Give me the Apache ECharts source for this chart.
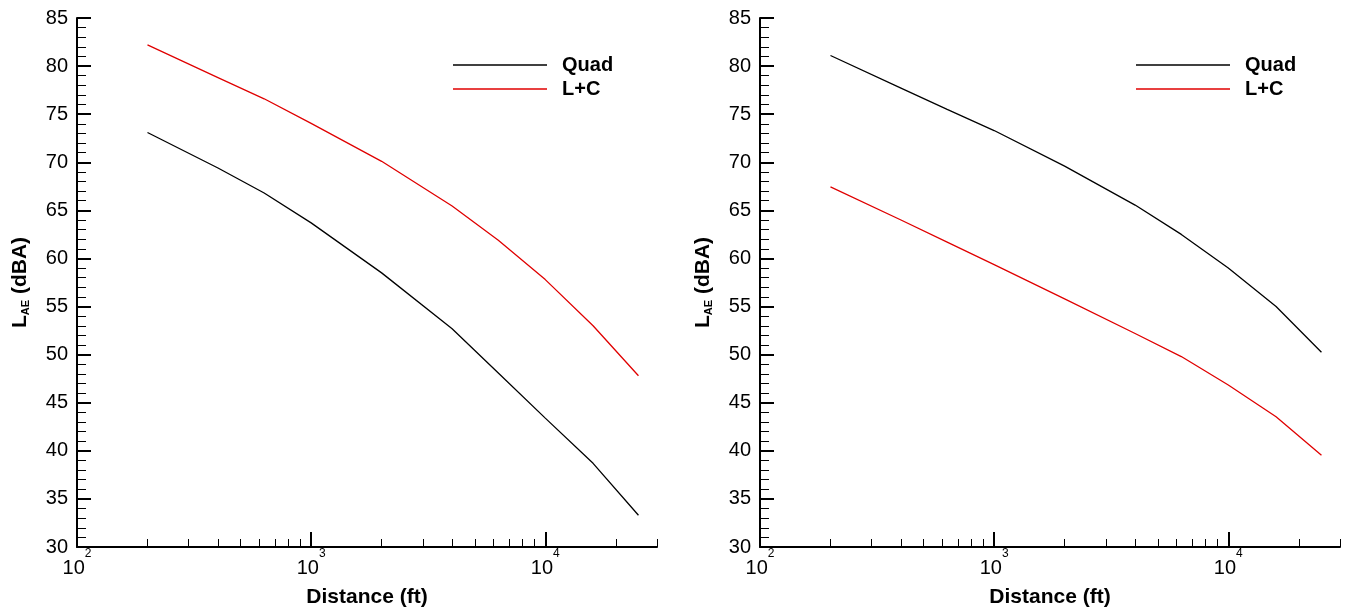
<!DOCTYPE html>
<html>
<head>
<meta charset="utf-8">
<script src="https://cdn.jsdelivr.net/npm/echarts@6/dist/echarts.min.js"></script>
<style>
  html, body { margin: 0; padding: 0; background: #fff; }
  #chart { width: 1347px; height: 613px; }
</style>
</head>
<body>
<div id="chart"></div>
<script>
// Sound exposure level vs. distance for two configurations
const distance   = [200, 400, 630, 1000, 2000, 4000, 6300, 10000, 16000, 25000];
const leftQuad   = [73.1, 69.4, 66.8, 63.7, 58.5, 52.7, 48.1, 43.4, 38.7, 33.3];
const leftLC     = [82.2, 78.8, 76.6, 74.05, 70.1, 65.45, 61.9, 57.8, 53.0, 47.8];
const rightQuad  = [81.1, 77.7, 75.5, 73.3, 69.6, 65.55, 62.5, 59.0, 55.0, 50.25];
const rightLC    = [67.45, 64.0, 61.7, 59.35, 55.8, 52.2, 49.8, 46.85, 43.55, 39.55];
const seriesNames = ['Quad', 'L+C'];
const decadeTicks = [100, 1000, 10000];
const minorXTicks = [200, 300, 400, 500, 600, 700, 800, 900,
                     2000, 3000, 4000, 5000, 6000, 7000, 8000, 9000,
                     20000, 30000];

const FONT = '"Liberation Sans", Arial, Helvetica, sans-serif';
const RED = '#e00000';

const pairs = (xs, ys) => xs.map((x, i) => [x, ys[i]]);

function xAxesFor(gridIndex) {
  return [
    {
      type: 'log', logBase: 10, gridIndex, min: 100, max: 30000, position: 'bottom',
      axisLine: { show: true, lineStyle: { color: '#000', width: 2 } },
      axisTick: { show: true, inside: true, length: 15, lineStyle: { color: '#000', width: 2 }, customValues: decadeTicks },
      axisLabel: {
        show: true, customValues: decadeTicks, margin: 1,
        formatter: v => '{b|10}{s|' + Math.round(Math.log10(v)) + '}',
        rich: {
          b: { fontFamily: FONT, fontSize: 20, color: '#000', lineHeight: 30, verticalAlign: 'bottom' },
          s: { fontFamily: FONT, fontSize: 12, color: '#000', verticalAlign: 'top' }
        }
      },
      splitLine: { show: false }, minorTick: { show: false },
      name: 'Distance (ft)', nameLocation: 'middle', nameGap: 40,
      nameTextStyle: { fontFamily: FONT, fontSize: 21, fontWeight: 'bold', color: '#000' }
    },
    {
      type: 'log', logBase: 10, gridIndex, min: 100, max: 30000, position: 'bottom',
      axisLine: { show: false },
      axisTick: { show: true, inside: true, length: 8, lineStyle: { color: '#000', width: 1 }, customValues: minorXTicks },
      axisLabel: { show: false },
      splitLine: { show: false }
    }
  ];
}

function yAxisFor(gridIndex) {
  return {
    type: 'value', gridIndex, min: 30, max: 85, interval: 5,
    axisLine: { show: true, lineStyle: { color: '#000', width: 2 } },
    axisTick: { show: true, inside: true, length: 14, lineStyle: { color: '#000', width: 2 } },
    minorTick: { show: true, splitNumber: 5, length: 9, lineStyle: { color: '#000', width: 1 } },
    axisLabel: { margin: 9, fontFamily: FONT, fontSize: 20, color: '#000' },
    splitLine: { show: false }, minorSplitLine: { show: false },
    name: '{b|L}{s|AE}{b| (dBA)}', nameLocation: 'middle', nameGap: 46,
    nameTextStyle: {
      rich: {
        b: { fontFamily: FONT, fontSize: 21, fontWeight: 'bold', color: '#000', lineHeight: 26, verticalAlign: 'bottom' },
        s: { fontFamily: FONT, fontSize: 11, fontWeight: 'bold', color: '#000', verticalAlign: 'bottom' }
      }
    }
  };
}

function legendAt(left) {
  return {
    data: seriesNames, orient: 'vertical', left, top: 48,
    icon: 'rect', itemWidth: 94, itemHeight: 1.5, itemGap: 0,
    selectedMode: false,
    textStyle: { fontFamily: FONT, fontSize: 20, fontWeight: 'bold', color: '#000', lineHeight: 24, padding: [0, 0, 0, 10] }
  };
}

function lineSeries(name, color, xIdx, yIdx, values) {
  return {
    type: 'line', name, xAxisIndex: xIdx, yAxisIndex: yIdx,
    data: pairs(distance, values), symbol: 'none', smooth: false,
    color, lineStyle: { color, width: 1.3 }, itemStyle: { color }
  };
}

const chart = echarts.init(document.getElementById('chart'), null, { renderer: 'canvas' });
chart.setOption({
  animation: false,
  backgroundColor: '#fff',
  grid: [
    { left: 77, top: 18, width: 580, height: 529 },
    { left: 760, top: 18, width: 580, height: 529 }
  ],
  xAxis: [...xAxesFor(0), ...xAxesFor(1)],
  yAxis: [yAxisFor(0), yAxisFor(1)],
  legend: [legendAt(448), legendAt(1131)],
  series: [
    lineSeries(seriesNames[0], '#000', 0, 0, leftQuad),
    lineSeries(seriesNames[1], RED, 0, 0, leftLC),
    lineSeries(seriesNames[0], '#000', 2, 1, rightQuad),
    lineSeries(seriesNames[1], RED, 2, 1, rightLC)
  ]
});
</script>
</body>
</html>
